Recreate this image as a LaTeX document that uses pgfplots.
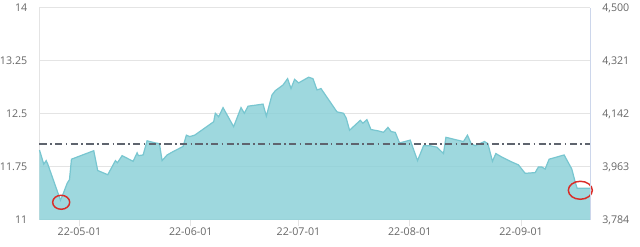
\documentclass[border=0pt]{standalone}
\usepackage{pgfplots}
\pgfplotsset{compat=1.18}
\usepackage{fontspec}
\setmainfont{Open Sans}
\definecolor{areafill}{RGB}{141,209,216}
\definecolor{arealine}{RGB}{120,198,208}
\definecolor{gridc}{RGB}{228,228,228}
\definecolor{labc}{RGB}{102,102,102}
\definecolor{redc}{RGB}{218,45,40}
\definecolor{rightax}{RGB}{204,214,235}
\definecolor{dashc}{RGB}{95,100,110}
\pgfplotstableread{
x y
-11.13 11.99
-9.94 11.79
-9.27 11.84
-8.82 11.79
-5.29 11.28
-4.54 11.37
-3.42 11.52
-2.78 11.57
-2.23 11.86
3.98 11.98
5.09 11.70
7.88 11.64
10.02 11.84
10.58 11.81
11.88 11.91
14.95 11.83
16.06 11.95
16.42 11.91
17.73 11.92
18.84 12.12
21.15 12.09
22.27 12.08
23.02 11.84
24.41 11.92
26.16 11.97
28.86 12.04
29.78 12.20
30.70 12.18
32.09 12.20
37.38 12.39
37.85 12.51
38.77 12.46
39.99 12.59
42.94 12.32
45.00 12.59
45.92 12.51
46.95 12.61
51.13 12.64
52.05 12.47
53.63 12.77
54.55 12.83
56.69 12.91
57.97 13.00
58.92 12.86
59.92 12.99
61.03 12.94
63.82 13.02
65.04 13.00
66.16 12.84
67.27 12.86
71.72 12.53
73.56 12.51
74.31 12.44
75.23 12.27
78.21 12.41
78.96 12.37
80.07 12.42
81.19 12.28
83.30 12.26
84.69 12.24
85.92 12.31
86.84 12.25
87.95 12.24
89.15 12.09
92.12 12.13
94.16 11.84
95.83 12.05
97.69 12.05
99.56 12.03
101.39 11.94
102.06 12.17
104.45 12.14
106.96 12.11
108.07 12.20
109.10 12.08
110.21 12.05
112.80 12.11
113.75 12.08
115.03 11.83
115.97 11.94
117.64 11.89
120.43 11.82
122.26 11.78
124.13 11.66
126.91 11.67
127.83 11.75
128.78 11.75
129.70 11.72
130.81 11.86
134.99 11.92
137.13 11.72
138.05 11.54
138.60 11.45
142.20 11.45
}\pricedata
\begin{document}
\begin{tikzpicture}
\begin{axis}[
  scale only axis, width=413pt, height=159pt,
  xmin=-11.13, xmax=142.2, ymin=11, ymax=14,
  clip=false,
  ytick={11,11.75,12.5,13.25,14},
  yticklabels={11,11.75,12.5,13.25,14},
  xtick={0,31,61,92,123},
  xticklabels={22-05-01,22-06-01,22-07-01,22-08-01,22-09-01},
  ymajorgrids, grid style={draw=gridc, line width=0.75pt},
  axis x line=bottom, axis y line=left,
  x axis line style={draw=gridc, line width=0.75pt, -},
  y axis line style={draw=gridc, line width=0.75pt, -},
  tick align=outside,
  xtick style={draw=gridc, line width=0.75pt},
  major tick length=4.5pt,
  ytick style={draw=none},
  tick label style={font=\fontsize{8}{10}\selectfont, text=labc},
  /pgf/number format/assume math mode=true,
  xticklabel style={yshift=2pt},
  yticklabel style={inner sep=0pt, xshift=-4.5pt},
]
\addplot[draw=none, fill=areafill, fill opacity=0.85] table {\pricedata} \closedcycle;
\addplot[draw=arealine, line width=0.9pt] table {\pricedata};
\addplot[draw=dashc, line width=1.1pt, dash pattern=on 5.5pt off 2.5pt on 1.2pt off 2.5pt] coordinates {(-11.13,12.075) (142.2,12.075)};
\addplot[only marks, mark=o, mark size=6.4pt, mark options={draw=redc, line width=1.1pt, yscale=0.82}] coordinates {(-5.09,11.25)};
\addplot[only marks, mark=o, mark size=9pt, mark options={draw=redc, line width=1.1pt, yscale=0.75}] coordinates {(139.5,11.42)};
\path (rel axis cs:0,0) ++(-29.25pt,-20.25pt) coordinate (bbA);
\path (rel axis cs:1,1) ++(37.5pt,6pt) coordinate (bbB);
\path (bbA) (bbB);
\end{axis}
\begin{axis}[
  scale only axis, width=413pt, height=159pt,
  xmin=-11.13, xmax=142.2, ymin=11, ymax=14,
  axis x line=none, axis y line*=right,
  y axis line style={draw=rightax, line width=0.75pt, -},
  ytick={11,11.75,12.5,13.25,14},
  yticklabels={3{,}784,3{,}963,4{,}142,4{,}321,4{,}500},
  ytick style={draw=none},
  tick label style={font=\fontsize{8}{10}\selectfont, text=labc},
  yticklabel style={inner sep=0pt, xshift=9pt},
]
\end{axis}
\end{tikzpicture}
\end{document}
